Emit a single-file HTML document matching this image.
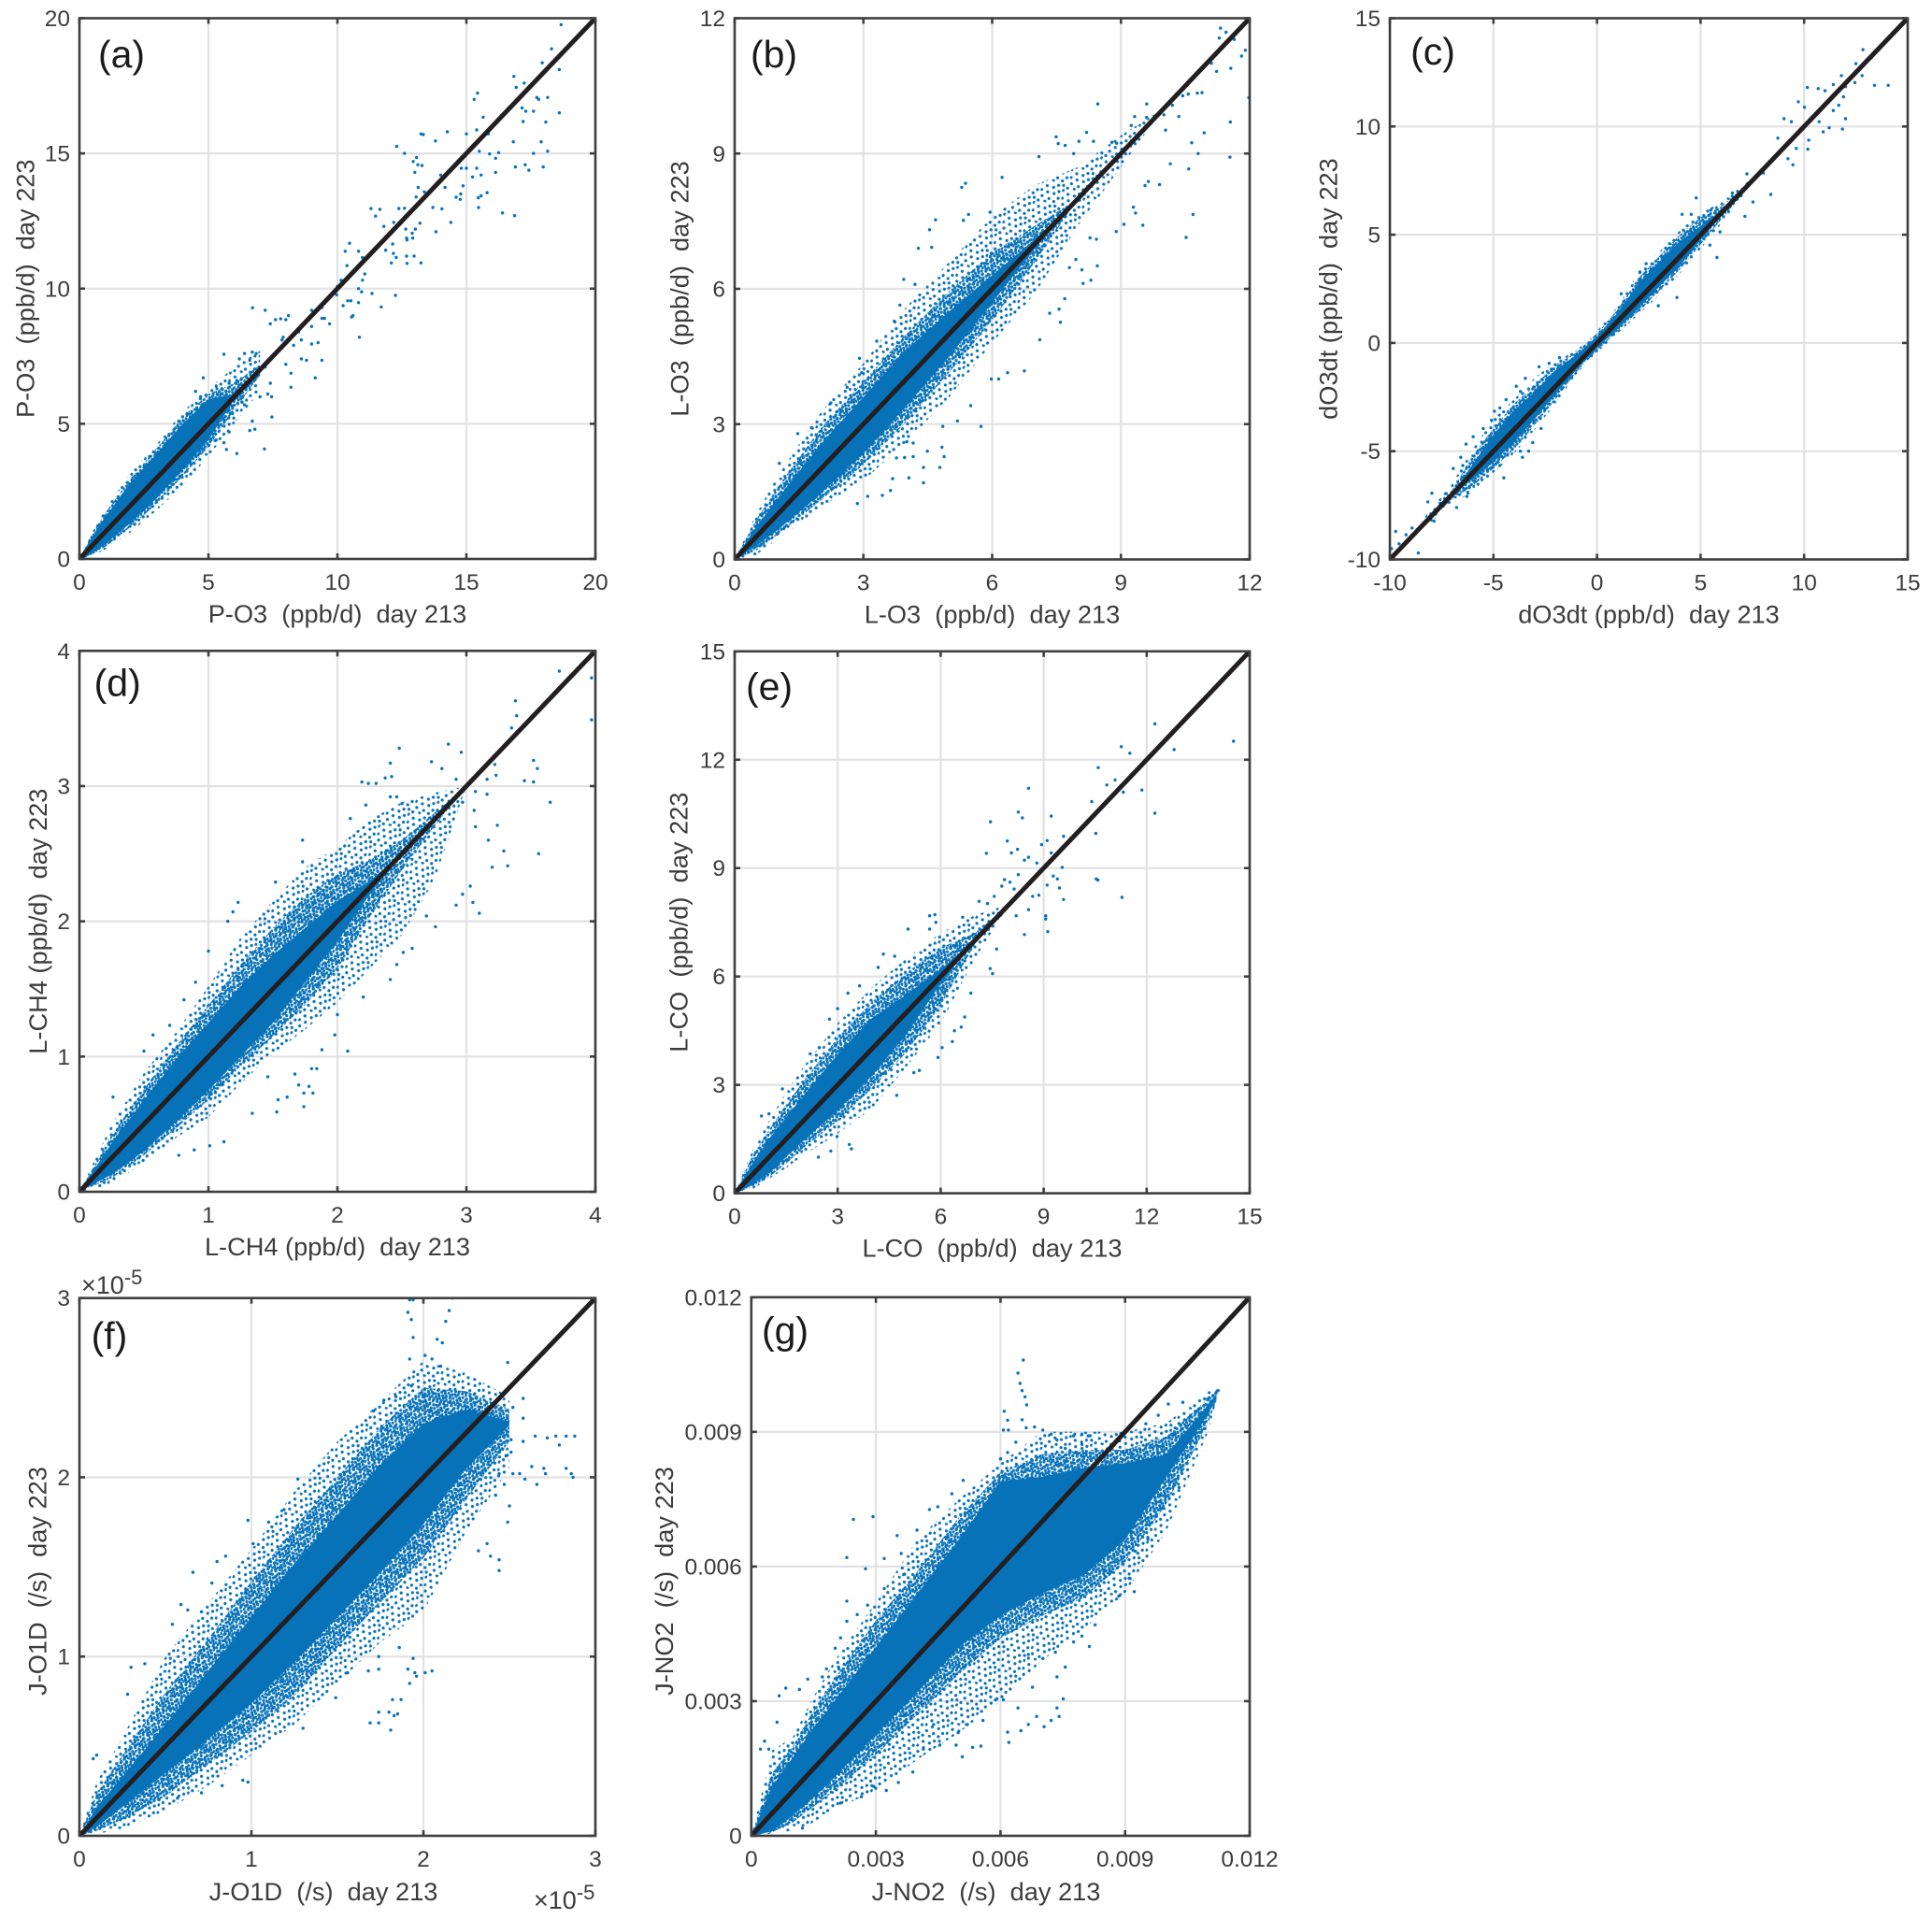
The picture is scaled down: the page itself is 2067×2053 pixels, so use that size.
<!DOCTYPE html>
<html lang="en">
<head>
<meta charset="utf-8">
<title>Day 213 vs day 223 scatter panels</title>
<style>
html,body{margin:0;padding:0;background:#fff;}
svg{display:block;}
text{font-family:"Liberation Sans",Arial,sans-serif;white-space:pre;}
</style>
</head>
<body>
<svg id="figure" xmlns="http://www.w3.org/2000/svg" width="2067" height="2053" viewBox="0 0 2067 2053">
<defs>
<pattern id="haze-dots" patternUnits="userSpaceOnUse" width="16" height="16" patternTransform="rotate(17)">
<g fill="#0872b9">
<circle cx="1" cy="2" r="1.6"/><circle cx="5.5" cy="1" r="1.6"/><circle cx="9" cy="3.5" r="1.6"/><circle cx="13" cy="1.5" r="1.6"/>
<circle cx="3" cy="5.5" r="1.6"/><circle cx="7.5" cy="6" r="1.6"/><circle cx="11.5" cy="6.5" r="1.6"/><circle cx="15" cy="5" r="1.6"/>
<circle cx="1.5" cy="9.5" r="1.6"/><circle cx="5" cy="9" r="1.6"/><circle cx="9.5" cy="9.5" r="1.6"/><circle cx="13.5" cy="9" r="1.6"/>
<circle cx="3" cy="12.5" r="1.6"/><circle cx="7" cy="13" r="1.6"/><circle cx="11" cy="12" r="1.6"/><circle cx="15" cy="13" r="1.6"/>
<circle cx="1" cy="15" r="1.6"/><circle cx="9.5" cy="15" r="1.6"/><circle cx="13" cy="15" r="1.6"/><circle cx="5" cy="15" r="1.6"/>
</g>
</pattern>
<pattern id="sparse-dots" patternUnits="userSpaceOnUse" width="24" height="24" patternTransform="rotate(23)">
<g fill="#0872b9">
<circle cx="2" cy="3" r="1.6"/><circle cx="9" cy="1" r="1.6"/><circle cx="16" cy="4" r="1.6"/><circle cx="21" cy="2" r="1.6"/>
<circle cx="5" cy="9" r="1.6"/><circle cx="12" cy="8" r="1.6"/><circle cx="19" cy="10" r="1.6"/><circle cx="23" cy="7" r="1.6"/>
<circle cx="1" cy="15" r="1.6"/><circle cx="8" cy="15" r="1.6"/><circle cx="15" cy="14" r="1.6"/><circle cx="21" cy="17" r="1.6"/>
<circle cx="4" cy="21" r="1.6"/><circle cx="12" cy="21" r="1.6"/><circle cx="18" cy="22" r="1.6"/>
</g>
</pattern>
</defs>
</svg>
<script>
/* ---------- panel (a) ---------- */
const aTicks = [0, 5, 10, 15, 20];
const aTickLabels = ["0", "5", "10", "15", "20"];
const aBandX = [0, 0.5, 1, 2, 3, 4, 5, 6, 7];
const aCoreLow = [0, 0.2, 0.55, 1.35, 2.25, 3.3, 4.4, 5.9, 7];
const aCoreHigh = [0, 0.85, 1.55, 2.85, 3.9, 5, 5.9, 6.1, 7];
const aHazeLow = [0, 0.17, 0.45, 1.2, 2.05, 3.05, 4.15, 5.5, 6.8];
const aHazeHigh = [0, 0.95, 1.7, 3, 4.1, 5.25, 6.1, 6.5, 7.2];
const aSparseLow = [0, 0.12, 0.35, 1, 1.8, 2.7, 3.8, 5, 6.2];
const aSparseHigh = [0, 1, 1.85, 3.2, 4.25, 5.45, 6.3, 7.1, 7.7];
const aPoints = [[18.67,19.76],[18.3,18.87],[17.94,18.35],[18.6,18.1],[16.84,17.85],[16.93,17.44],[17.24,17.6],[17.73,17.07],[17.8,17],[18.15,17.07],[18.6,16.5],[17.16,16.68],[17.3,16.56],[17.6,16.56],[17.2,16.18],[18.08,16.16],[15.43,17.23],[15.3,17],[15.65,16.34],[15.4,15.87],[15.85,15.72],[15,15.72],[14.26,15.8],[13.24,15.72],[13.33,15.7],[13.8,15.46],[12.3,15.26],[12.6,15],[13.07,14.85],[12.94,14.7],[13.28,14.55],[13.12,14.58],[13,14.3],[16.82,15.43],[17.9,15.43],[17.6,15],[18.15,15.08],[15.5,15.08],[16.9,14.5],[17.28,14.58],[17.42,14.38],[17.98,14.5],[15.9,14.98],[16.13,14.82],[16.25,15.03],[16.13,14.3],[15.4,14.45],[15,14.45],[14.8,14.45],[15.24,14.13],[15.57,14.2],[15.57,13.43],[15.8,13.55],[15.46,13.36],[15.47,13],[16.4,12.8],[16.87,12.7],[14.87,13.8],[14.78,13.5],[14.6,13.38],[14.76,13.3],[14.4,12.45],[13.7,13],[14.05,12.95],[13.82,12.1],[14.17,13.74],[14,14.2],[13.37,13.58],[13.05,13.39],[13.13,13.74],[12.6,12.97],[12.38,12.96],[11.65,12.93],[11.3,12.96],[11.48,12.68],[11.8,12.3],[12.18,12.45],[13.02,12.2],[13.2,12.42],[12.65,12.2],[12.9,12.05],[12.7,11.8],[11.87,11.42],[12.14,11.65],[12.17,11.3],[12.28,11.15],[12.68,11.87],[12.92,11.87],[12.68,11.2],[12.97,11.2],[13.24,10.95],[12.09,10.95],[12.7,10.93],[10.47,11.68],[10.3,11.38],[10.37,10.85],[10.82,11.38],[10.97,11.15],[11.06,10.54],[10.97,10.31],[10,10.08],[10.14,10.31],[10.82,10],[10.94,9.88],[11.34,9.82],[12.25,9.75],[11.7,9.32],[10.82,9.48],[10.4,9.55],[10.52,9.55],[10.22,9.37],[9.97,9.77],[10.6,9],[10.55,8.95],[10.85,8.2],[9.14,6.7],[8.2,6.87],[8.2,6.35],[7.46,5.25],[7.17,4.07],[6.1,3.9],[5.7,4.05],[5.6,4.3],[6.71,9.29],[7.2,9.2],[7.4,8.7],[7.6,8.85],[7.8,8.88],[8,8.85],[8.1,9],[7.9,8.2],[7.85,8.1],[5.6,7.57],[6.2,7.4],[6.4,7.6],[6.7,7.65],[6.85,7.6],[6.6,7.35],[7,7],[7.2,7.1],[4.8,6.7],[8,7.2],[8.6,7.4],[8.8,7.35],[9.4,7.35],[9,7.95],[9.25,8],[8.5,8.4],[9.4,8.9],[9.7,8.7],[9.5,8.9],[9,8.6],[9.4,9.3],[9,9.2],[8.3,7.9],[8.6,8.1],[7.4,6.5],[7.3,6.1],[7.45,6],[7,6],[6.4,5.7],[6.3,5.8],[6.7,5.1],[6.6,4.75],[6.8,4.8],[5.9,5.4],[5.8,4.7],[5.1,4.4],[5,4.2],[5.3,4.4],[6.1,6.6],[6.6,6.5],[5.8,6.5],[5.3,6.4],[4.5,6.2],[4.7,6.0]];

/* ---------- panel (b) ---------- */
const bTicks = [0, 3, 6, 9, 12];
const bTickLabels = ["0", "3", "6", "9", "12"];
const bBandX = [0, 0.5, 1, 2, 3, 4, 5, 6, 7, 8, 9, 10, 11, 12];
const bCoreLow = [0, 0.3, 0.65, 1.45, 2.35, 3.4, 4.5, 5.7, 6.9, 8, 9, 10, 11, 12];
const bCoreHigh = [0, 0.72, 1.35, 2.55, 3.6, 4.65, 5.5, 6.3, 7.1, 8, 9, 10, 11, 12];
const bHazeLow = [0, 0.2, 0.55, 1.3, 2.1, 3.05, 4.15, 5.3, 6.6, 8, 9, 10, 11, 12];
const bHazeHigh = [0, 0.88, 1.6, 2.9, 3.95, 5, 5.95, 6.8, 7.4, 8, 9, 10, 11, 12];
const bSparseLow = [0, 0.1, 0.45, 1.15, 1.75, 2.6, 3.6, 4.8, 5.9, 7.4, 8.7, 10, 11, 12];
const bSparseHigh = [0, 1, 1.85, 3.25, 4.35, 5.6, 6.6, 7.6, 8.3, 8.7, 9.4, 10, 11, 12];
const bPoints = [[11.32,11.78],[11.29,11.56],[11.45,11.69],[11.64,11.53],[11.9,11.29],[11.81,11.16],[11.11,11],[11.23,10.82],[11.56,10.89],[11.98,10.24],[8.46,10.1],[9.6,10.1],[10.89,10.35],[10.78,10.34],[10.57,10.32],[10.44,10.28],[10.2,10.07],[10,9.86],[10.35,9.82],[9.32,9.82],[9.6,9.8],[9.24,9.62],[10.04,9.52],[11.55,9.7],[10.94,9.46],[10.65,9.24],[10.8,9],[11.54,8.92],[10.15,8.77],[10.58,8.66],[9.9,8.31],[9.64,8.38],[9.56,8.29],[9.29,7.81],[9.34,7.68],[10.68,7.65],[9.51,7.41],[9.07,7.43],[8.89,7.27],[10.52,7.14],[8.2,9.47],[7.49,9.37],[7.54,9.22],[7.7,9.18],[8.02,9.27],[8.36,9.27],[8.79,9.25],[8.9,9.23],[7.09,8.93],[7.9,9],[6.23,8.47],[5.38,8.34],[5.29,8.25],[4.68,7.53],[4.54,7.31],[5.45,7.65],[5.33,7.52],[5.95,7.7],[4.28,6.9],[4.59,6.92],[3.94,6.21],[4.2,6.1],[8.45,6.51],[8.09,6.42],[8.12,6.12],[8.3,6.19],[7.8,6.47],[8.43,7.1],[8.28,7.13],[7.95,6.65],[7.69,5.78],[7.56,5.55],[7.34,5.46],[7.59,5.26],[7.11,4.87],[6.75,4.18],[6.36,4.14],[6.15,4],[5.98,4],[5.5,3.41],[5.74,2.95],[5.19,3.07],[4.85,2.95],[4.88,2.28],[4.83,2.49],[4.78,2.04],[4.49,2.4],[4.4,2.04],[4.16,2.58],[4.01,2.61],[3.77,2.25],[3.96,2.26],[4.16,2.28],[4.06,1.81],[4.4,1.7],[3.68,1.79],[3.63,1.53],[3.1,1.4],[2.86,1.24],[3.44,1.42],[2.91,4.46],[2.96,4.14],[3.31,4.84],[3.85,5.64],[3.72,5.28],[1.47,2.79],[1.79,2.92],[2.24,3.47],[2.62,3.82],[1.04,2.13]];

/* ---------- panel (c) ---------- */
const cTicks = [-10, -5, 0, 5, 10, 15];
const cTickLabels = ["-10", "-5", "0", "5", "10", "15"];
const cBandX = [-10, -7, -6, -5, -4, -3, -2, -1, 0, 1, 2, 3, 4, 5, 6, 8, 15];
const cCoreLow = [-10, -7, -6.3, -5.5, -4.6, -3.5, -2.35, -1.25, -0.25, 0.65, 1.6, 2.6, 3.6, 4.75, 5.9, 8, 15];
const cCoreHigh = [-10, -7, -5.6, -4.25, -3.1, -2.25, -1.25, -0.55, 0.3, 1.4, 2.75, 3.75, 4.7, 5.4, 6.1, 8, 15];
const cHazeLow = [-10, -7.2, -6.6, -5.8, -4.9, -3.8, -2.6, -1.35, -0.35, 0.55, 1.45, 2.4, 3.4, 4.55, 5.7, 8, 15];
const cHazeHigh = [-10, -6.8, -5.2, -3.95, -2.8, -1.95, -1, -0.45, 0.45, 1.55, 3, 4, 5, 5.8, 6.3, 8, 15];
const cSparseLow = [-10, -7.4, -6.9, -6, -5.1, -4, -2.8, -1.45, -0.45, 0.45, 1.3, 2.2, 3.2, 4.35, 5.5, 8, 15];
const cSparseHigh = [-10, -6.5, -4.9, -3.5, -2.6, -1.6, -0.85, -0.35, 0.55, 1.7, 3.25, 4.2, 5.2, 6, 6.5, 8, 15];
const cPoints = [[12.84,13.55],[13.24,13.17],[12.5,12.9],[11.8,12.35],[12.8,12.35],[12.45,12.03],[14.06,11.9],[13.4,11.9],[10.16,11.8],[10.68,11.75],[11.01,11.65],[11.41,11.94],[12,11.84],[11.9,11.37],[9.72,11.14],[10.02,10.89],[11.67,10.98],[11.41,10.74],[12,10.36],[11.85,9.88],[11.21,9.94],[9.03,10.36],[9.38,10.22],[10.72,10.22],[10.92,9.75],[10.22,9.37],[10.18,8.95],[9.62,8.99],[9.46,8.23],[9.22,8.51],[8.73,9.46],[8.03,7.85],[8.39,6.86],[7.53,6.51],[7.14,5.85],[7.24,7.81],[6.54,6.93],[4.79,6.7],[4.11,5.94],[4.55,5.94],[5.49,6.13],[5.94,5.13],[5.79,3.95],[5.45,4.52],[3.86,2.1],[2.96,1.72],[1.17,2.27],[2.07,3.28],[2.37,3.66],[-1.81,-0.68],[-2.8,-1.1],[-2.31,-0.94],[-3.46,-1.63],[-3.9,-2],[-3.7,-2.24],[-4.39,-2.62],[-4.95,-3.15],[-4.69,-3],[-5.09,-3.57],[-5.49,-3.95],[-5.98,-4.33],[-6.32,-4.67],[-6.58,-5.28],[-6.94,-5.8],[-6.48,-5.66],[-7.97,-6.94],[-8.17,-7.34],[-7.57,-7.41],[-7.28,-6.96],[-6.78,-7.6],[-7.87,-8.23],[-9.72,-8.71],[-8.93,-8.55],[-9.22,-8.86],[-9.56,-9.28],[-9.92,-9.5],[-8.63,-9.7],[-4.5,-6.23],[-5.09,-5.76],[-4.69,-5.66],[-3.6,-5.28],[-3.7,-5],[-3.3,-5],[-2.7,-3.95],[-3.1,-4.6],[-6.28,-7.09],[-6.24,-6.9]];

/* ---------- panel (d) ---------- */
const dTicks = [0, 1, 2, 3, 4];
const dTickLabels = ["0", "1", "2", "3", "4"];
const dBandX = [0, 0.25, 0.5, 0.75, 1, 1.25, 1.5, 1.75, 2, 2.25, 2.5, 2.75, 3, 4];
const dCoreLow = [0, 0.13, 0.3, 0.52, 0.75, 1, 1.25, 1.55, 1.85, 2.2, 2.5, 2.75, 3, 4];
const dCoreHigh = [0, 0.36, 0.68, 0.98, 1.25, 1.52, 1.75, 1.95, 2.15, 2.3, 2.5, 2.75, 3, 4];
const dHazeLow = [0, 0.1, 0.27, 0.47, 0.68, 0.93, 1.15, 1.38, 1.65, 2.03, 2.38, 2.7, 3, 4];
const dHazeHigh = [0, 0.42, 0.76, 1.08, 1.38, 1.68, 1.95, 2.18, 2.35, 2.45, 2.6, 2.8, 3, 4];
const dSparseLow = [0, 0.05, 0.22, 0.4, 0.55, 0.8, 1.02, 1.2, 1.4, 1.65, 1.9, 2.3, 3, 4];
const dSparseHigh = [0, 0.5, 0.88, 1.18, 1.52, 1.88, 2.15, 2.4, 2.55, 2.75, 2.88, 2.95, 3, 4];
const dPoints = [[3.72,3.85],[3.97,3.8],[3.97,3.49],[3.38,3.63],[3.39,3.52],[3.35,3.43],[2.48,3.28],[2.86,3.31],[2.96,3.25],[2.41,3.17],[2.73,3.18],[2.81,3.13],[3.52,3.19],[3.55,3.13],[3.22,3.16],[3.23,3.08],[3.16,3.05],[2.92,3.05],[3.45,3.04],[3.52,3.03],[3.07,2.96],[3.16,2.94],[3.65,2.88],[2.97,2.88],[3.06,2.82],[3.07,2.7],[3.24,2.71],[3.17,2.6],[3.29,2.52],[3.56,2.5],[3.2,2.4],[3.32,2.41],[3.03,2.26],[2.97,2.2],[2.92,2.12],[3.05,2.14],[3.1,2.06],[2.76,1.96],[2.69,2.04],[2.58,1.8],[2.51,1.77],[2.46,1.68],[2.41,1.57],[2.2,1.44],[2.08,1.04],[1.98,1.16],[2,1.31],[1.88,1.05],[1.84,0.91],[1.8,0.91],[1.81,0.73],[1.74,0.73],[1.74,0.63],[1.78,0.78],[1.7,0.79],[1.67,0.87],[1.61,0.7],[1.54,0.68],[1.53,0.59],[1.34,0.58],[1.46,0.85],[1.12,0.37],[1.01,0.34],[0.89,0.31],[0.77,0.27],[2.19,3.03],[2.24,3.02],[2.3,3.02],[2.37,3.06],[2.42,3.07],[2.41,2.92],[2.46,2.92],[2.5,2.87],[2.22,2.86],[2.1,2.76],[1.73,2.6],[1.73,2.44],[1.52,2.29],[1.23,2.14],[1.19,2.07],[1.15,2],[1,1.78],[0.9,1.55],[0.81,1.42],[0.7,1.23],[0.57,1.16],[0.5,1.04],[0.26,0.7]];

/* ---------- panel (e) ---------- */
const eTicks = [0, 3, 6, 9, 12, 15];
const eTickLabels = ["0", "3", "6", "9", "12", "15"];
const eBandX = [0, 0.5, 1, 1.5, 2, 3, 4, 5, 6, 7, 8, 15];
const eCoreLow = [0, 0.22, 0.55, 1, 1.45, 2.3, 3.25, 4.4, 5.8, 7, 8, 15];
const eCoreHigh = [0, 0.8, 1.5, 2.1, 2.7, 3.85, 4.85, 5.5, 6.2, 7, 8, 15];
const eHazeLow = [0, 0.18, 0.45, 0.82, 1.25, 2, 2.9, 3.9, 5.2, 6.9, 8, 15];
const eHazeHigh = [0, 1, 1.75, 2.45, 3.1, 4.3, 5.3, 6.1, 6.8, 7.2, 8, 15];
const eSparseLow = [0, 0.1, 0.4, 0.7, 1.05, 1.65, 2.35, 3.5, 4.7, 6.5, 8, 15];
const eSparseHigh = [0, 1.15, 2, 2.8, 3.5, 4.7, 5.7, 6.5, 7.2, 7.7, 8, 15];
const ePoints = [[14.53,12.51],[12.24,12.99],[11.26,12.36],[11.51,12.18],[12.8,12.28],[11.86,11.16],[12.24,10.52],[11.28,8.19],[10.59,11.78],[11.08,11.44],[10.84,11.3],[11.32,11.1],[10.4,10.84],[8.56,11.21],[9.22,10.44],[8.26,10.55],[8.38,10.39],[7.45,10.28],[7.33,9.41],[7.94,9.75],[8.06,9.42],[8.24,9.52],[8.44,9.22],[8.56,9.3],[8.94,9.65],[9.1,9.76],[9.22,9.42],[9.58,9.88],[8.8,9.14],[10.52,9.96],[10.53,8.7],[10.58,8.67],[9.54,9.02],[9.4,8.7],[9.28,8.78],[9.46,8.45],[9.58,8.13],[9.1,8.53],[8.86,8.25],[8.68,8.22],[8.26,8.82],[7.86,8.68],[8.02,8.61],[7.78,8.5],[8.14,8.42],[8.56,7.85],[8.2,7.68],[8.44,7.16],[9.06,7.68],[9.06,7.59],[9.12,7.24],[7.63,6.76],[7.44,6.22],[7.51,6.08],[7.12,8.08],[7.36,8.02],[7.56,8.22],[6.64,7.64],[5.68,7.68],[5.83,7.71],[5.86,7.5],[5.68,7.31],[5.05,7.31],[4.33,6.62],[4.66,6.56],[4.18,6.25],[6.88,5.54],[6.7,4.88],[6.6,4.6],[6.4,4.5],[6.34,4.2],[6.04,4.03],[5.92,3.76],[5.38,3.4],[5.22,3.34],[4.72,2.71],[3.4,1.23],[3.34,1.35],[2.98,1.57],[2.8,1.17],[2.44,1],[3.3,5.54],[3.64,5.74],[3,5.11],[2.76,4.82],[2.2,3.86],[2.46,4.03],[1.39,2.89],[0.78,2.14],[1,2.2]];

/* ---------- panel (f), values in units of 1e-5 ---------- */
const fTicks = [0, 1, 2, 3];
const fTickLabels = ["0", "1", "2", "3"];
const fBandX = [0, 0.1, 0.25, 0.5, 0.75, 1, 1.25, 1.5, 1.75, 2, 2.25, 2.5];
const fCoreLow = [0, 0.05, 0.16, 0.35, 0.54, 0.74, 0.97, 1.22, 1.47, 1.74, 2.05, 2.29];
const fCoreHigh = [0, 0.16, 0.33, 0.62, 0.92, 1.22, 1.52, 1.79, 2.07, 2.3, 2.38, 2.31];
const fHazeLow = [0, 0.03, 0.09, 0.22, 0.4, 0.58, 0.78, 1.05, 1.3, 1.55, 1.88, 2.2];
const fHazeHigh = [0, 0.24, 0.45, 0.8, 1.1, 1.42, 1.72, 2, 2.28, 2.5, 2.48, 2.38];
const fSparseLow = [0, 0.01, 0.04, 0.14, 0.28, 0.45, 0.62, 0.85, 1.08, 1.25, 1.7, 2.05];
const fSparseHigh = [0, 0.3, 0.55, 1, 1.3, 1.6, 1.92, 2.2, 2.42, 2.65, 2.58, 2.45];
const fPoints = [[1.94,2.99],[1.91,2.92],[1.92,2.99],[1.93,2.88],[1.94,2.78],[1.92,2.66],[2.17,3],[2.15,2.93],[2.13,2.87],[2.08,2.77],[2.11,2.75],[2.01,2.68],[2.05,2.66],[2.49,2.64],[2.1,2.62],[2.88,2.23],[2.83,2.23],[2.77,2.23],[2.79,2.18],[2.72,2.22],[2.65,2.23],[2.58,2.2],[2.87,2],[2.83,2.05],[2.86,2.02],[2.71,2.02],[2.7,2.05],[2.66,1.96],[2.63,2.06],[2.59,1.99],[2.56,2.02],[2.52,2.02],[2.58,2.33],[2.58,2.44],[2.52,2.39],[2.51,2.21],[2.51,2.14],[2.5,1.84],[2.49,1.75],[2.44,1.48],[2.44,1.54],[2.39,1.56],[2.32,1.59],[2.37,1.63],[1.69,0.63],[1.74,0.63],[1.74,0.69],[1.8,0.69],[1.83,0.67],[1.81,0.59],[1.87,0.76],[1.82,0.76],[1.85,0.68],[1.68,0.92],[1.74,0.93],[1.74,1],[1.86,1.05],[1.94,0.99],[1.95,0.91],[1.91,0.93],[1.96,0.89],[2.01,0.91],[2.05,0.92],[1.92,0.85],[1.56,0.91],[1.49,0.77],[1.3,0.6],[0.98,0.3],[0.95,0.31],[0.83,0.28],[0.71,0.24],[0.57,0.21],[0.66,1.47],[0.77,1.41],[0.8,1.53],[0.85,1.56],[0.98,1.76],[1.01,1.63],[1.1,1.75],[1.19,1.82],[1.27,1.99],[0.59,1.29],[0.54,1.18],[0.63,1.26],[0.71,1.25],[0.38,0.96],[0.3,0.94],[0.28,0.79],[0.08,0.43],[0.1,0.45],[1.71,2.37],[1.77,2.43],[1.84,2.45],[1.93,2.51],[2.46,2.3],[2.48,2.12],[2.44,2.02],[2.47,1.96],[2.42,1.9]];

/* ---------- panel (g), values in units of 1e-3 ---------- */
const gTicks = [0, 3, 6, 9, 12];
const gTickLabels = ["0", "0.003", "0.006", "0.009", "0.012"];
const gBandX = [0, 0.5, 1, 1.5, 2, 3, 4, 5, 6, 7, 8, 9, 10, 11, 11.2];
const gCoreLow = [0, 0.1, 0.45, 0.85, 1.3, 2.25, 3.2, 4.2, 4.9, 5.4, 5.8, 6.6, 8, 9.4, 9.75];
const gCoreHigh = [0, 1.1, 1.75, 2.4, 3, 4.2, 5.4, 6.6, 7.9, 8, 8.2, 8.3, 8.5, 9.6, 9.85];
const gHazeLow = [0, 0.08, 0.3, 0.65, 1, 1.8, 2.7, 3.6, 4.4, 4.9, 5.3, 6.1, 7.4, 9.2, 9.7];
const gHazeHigh = [0, 1.4, 2, 2.8, 3.5, 4.8, 5.9, 7.1, 8.1, 8.5, 8.6, 8.6, 8.9, 9.75, 9.9];
const gSparseLow = [0, 0.05, 0.12, 0.3, 0.6, 1, 1.7, 2.3, 3, 3.9, 4.6, 5.4, 6.8, 9, 9.7];
const gSparseHigh = [0, 1.9, 2.2, 3.1, 3.9, 5.2, 6.6, 7.5, 8.3, 9, 9, 9, 9.2, 9.9, 9.95];
const gPoints = [[6.55,10.6],[6.42,10.31],[6.47,10.08],[6.52,9.92],[6.59,9.78],[6.63,9.6],[6.09,9.46],[6.17,9.26],[6.07,9.04],[6.19,9.04],[6.52,9.27],[6.62,9.09],[6.82,9.11],[7.02,9.04],[7.22,8.95],[7.36,8.82],[7.76,8.91],[7.96,8.95],[8.11,8.91],[7.96,8.72],[7.81,8.54],[6.37,8.77],[6.17,8.54],[6,8.4],[7.56,8.63],[5.1,7.92],[2.93,7.11],[2.46,7.05],[4.83,7.62],[4.49,7.33],[4.29,7.27],[3.99,6.81],[3.51,6.69],[3.61,6.29],[3.2,6.18],[2.3,6.2],[2.75,5.95],[2.3,5.23],[2.8,5.14],[2.55,4.93],[2.3,4.78],[2.15,4.41],[2.02,4.18],[3.2,5.51],[3.69,5.83],[10.04,9.62],[10.39,9.66],[11.19,9.87],[11.24,9.92],[10.99,9.73],[10.69,9.46],[10.54,9.32],[10.34,9.14],[10.14,8.95],[9.8,9.37],[9.5,9.18],[9.95,8.49],[10.3,7.76],[10.19,7.81],[10.04,7.58],[9.9,7.3],[9.75,7.44],[9.55,6.61],[9.25,6.34],[9.1,5.74],[9.22,5.44],[8.85,5.34],[8.66,5.88],[8.28,4.7],[7.96,4.45],[8.14,4.22],[7.76,4.32],[7.56,3.76],[7.32,4.09],[7.02,3.95],[6.67,4.04],[7.51,3.05],[7.36,2.85],[7.22,2.57],[7.05,2.43],[7.41,2.66],[6.87,2.66],[6.67,2.48],[6.49,2.34],[6.2,2.08],[6.17,2.31],[6.42,2.85],[6.07,3.03],[5.88,3.03],[5.53,2],[5.33,1.97],[5.08,1.76],[4.93,2.02],[4.54,2.02],[4.14,1.93],[3.89,1.42],[3.54,1.19],[3.25,1.01],[2.95,1.1],[2.65,0.87],[2.15,0.73],[1.23,0.17],[5.18,2.48],[4.98,2.3],[5.58,2.57],[4.39,2.48],[7.36,3.54],[6.77,3.31],[0.67,3.12],[0.83,3.29],[1.36,3.49],[1.16,3.26],[0.62,2.53],[0.22,1.93],[0.42,1.93],[0.32,2.11],[1.81,3.72],[1.71,3.54],[2.1,3.76]];

/* ---------- layout and rendering ---------- */
const NS = 'http://www.w3.org/2000/svg';
const figure = document.getElementById('figure');
const BLUE = '#0872b9';
const TEXT = '#3c3c3c';

const panels = [
  { id:'a', box:[85,19.5,637,598], ticks:aTicks, tickLabels:aTickLabels, bandX:aBandX, coreLow:aCoreLow, coreHigh:aCoreHigh, hazeLow:aHazeLow, hazeHigh:aHazeHigh, sparseLow:aSparseLow, sparseHigh:aSparseHigh, points:aPoints, xTitle:'P-O3  (ppb/d)  day 213', yTitle:'P-O3  (ppb/d)  day 223', yTitleX:27, tag:'(a)', tagPos:[130,59.2], xTitleDrop:68 },
  { id:'b', box:[786,19.5,1337,598.5], ticks:bTicks, tickLabels:bTickLabels, bandX:bBandX, coreLow:bCoreLow, coreHigh:bCoreHigh, hazeLow:bHazeLow, hazeHigh:bHazeHigh, sparseLow:bSparseLow, sparseHigh:bSparseHigh, points:bPoints, xTitle:'L-O3  (ppb/d)  day 213', yTitle:'L-O3  (ppb/d)  day 223', yTitleX:727, tag:'(b)', tagPos:[828,59.2], xTitleDrop:68 },
  { id:'c', box:[1487,19.5,2041,598.5], ticks:cTicks, tickLabels:cTickLabels, bandX:cBandX, coreLow:cCoreLow, coreHigh:cCoreHigh, hazeLow:cHazeLow, hazeHigh:cHazeHigh, sparseLow:cSparseLow, sparseHigh:cSparseHigh, points:cPoints, xTitle:'dO3dt (ppb/d)  day 213', yTitle:'dO3dt (ppb/d)  day 223', yTitleX:1421, tag:'(c)', tagPos:[1533,56.1], xTitleDrop:68 },
  { id:'d', box:[85,696.3,637,1275], ticks:dTicks, tickLabels:dTickLabels, bandX:dBandX, coreLow:dCoreLow, coreHigh:dCoreHigh, hazeLow:dHazeLow, hazeHigh:dHazeHigh, sparseLow:dSparseLow, sparseHigh:dSparseHigh, points:dPoints, xTitle:'L-CH4 (ppb/d)  day 213', yTitle:'L-CH4 (ppb/d)  day 223', yTitleX:40.5, tag:'(d)', tagPos:[125.7,731.3], xTitleDrop:68 },
  { id:'e', box:[786,696.8,1337,1276.6], ticks:eTicks, tickLabels:eTickLabels, bandX:eBandX, coreLow:eCoreLow, coreHigh:eCoreHigh, hazeLow:eHazeLow, hazeHigh:eHazeHigh, sparseLow:eSparseLow, sparseHigh:eSparseHigh, points:ePoints, xTitle:'L-CO  (ppb/d)  day 213', yTitle:'L-CO  (ppb/d)  day 223', yTitleX:726, tag:'(e)', tagPos:[823,735.5], xTitleDrop:68 },
  { id:'f', box:[85,1388.7,637,1964], ticks:fTicks, tickLabels:fTickLabels, bandX:fBandX, coreLow:fCoreLow, coreHigh:fCoreHigh, hazeLow:fHazeLow, hazeHigh:fHazeHigh, sparseLow:fSparseLow, sparseHigh:fSparseHigh, points:fPoints, xTitle:'J-O1D  (/s)  day 213', yTitle:'J-O1D  (/s)  day 223', yTitleX:40, tag:'(f)', tagPos:[117,1430], exponent:true, xTitleDrop:69, xTitleCenter:346, yTitleCenter:1691.5 },
  { id:'g', box:[803.8,1387.8,1337,1964], ticks:gTicks, tickLabels:gTickLabels, bandX:gBandX, coreLow:gCoreLow, coreHigh:gCoreHigh, hazeLow:gHazeLow, hazeHigh:gHazeHigh, sparseLow:gSparseLow, sparseHigh:gSparseHigh, points:gPoints, xTitle:'J-NO2  (/s)  day 213', yTitle:'J-NO2  (/s)  day 223', yTitleX:710.5, tag:'(g)', tagPos:[840,1424.5], xTitleDrop:69, xTitleCenter:1055, yTitleCenter:1691.5 }
];

function xScale(p, v) {
  const lo = p.ticks[0], hi = p.ticks[p.ticks.length - 1];
  return p.box[0] + (v - lo) / (hi - lo) * (p.box[2] - p.box[0]);
}
function yScale(p, v) {
  const lo = p.ticks[0], hi = p.ticks[p.ticks.length - 1];
  return p.box[3] - (v - lo) / (hi - lo) * (p.box[3] - p.box[1]);
}
function bandPoints(p, low, high) {
  const top = p.bandX.map((x, i) => xScale(p, x).toFixed(1) + ',' + yScale(p, high[i]).toFixed(1));
  const bottom = p.bandX.map((x, i) => xScale(p, x).toFixed(1) + ',' + yScale(p, low[i]).toFixed(1)).reverse();
  return top.concat(bottom).join(' ');
}
function make(tag, parent, attrs) {
  const el = document.createElementNS(NS, tag);
  for (const k in attrs) el.setAttribute(k, attrs[k]);
  parent.appendChild(el);
  return el;
}

panels.forEach(p => {
  const [x0, y0, x1, y1] = p.box;
  const g = make('g', figure, {});
  
  

  const clip = make('clipPath', g, { id: 'clip-' + p.id });
  make('rect', clip, { x: x0, y: y0, width: x1 - x0, height: y1 - y0 });

  /* grid */
  p.ticks.slice(1, -1).forEach(t => {
    const v = make('line', g, { x1: xScale(p, t), x2: xScale(p, t), y1: y0, y2: y1, stroke: '#e2e2e2', 'stroke-width': 2.2 });
    
    
    const h = make('line', g, { x1: x0, x2: x1, y1: yScale(p, t), y2: yScale(p, t), stroke: '#e2e2e2', 'stroke-width': 2.2 });
    
    
  });

  /* point cloud */
  const cloud = make('g', g, { 'clip-path': 'url(#clip-' + p.id + ')' });
  
  

  const sparse = make('polygon', cloud, { points: bandPoints(p, p.sparseLow, p.sparseHigh), fill: 'url(#sparse-dots)' });
  
  

  const haze = make('polygon', cloud, { points: bandPoints(p, p.hazeLow, p.hazeHigh), fill: 'url(#haze-dots)' });
  
  

  const core = make('polygon', cloud, { points: bandPoints(p, p.coreLow, p.coreHigh), fill: BLUE });
  
  

  p.points.forEach(pt => {
    const c = make('circle', cloud, { cx: xScale(p, pt[0]).toFixed(1), cy: yScale(p, pt[1]).toFixed(1), r: 1.7, fill: BLUE });
    
    
  });

  /* 1:1 line */
  const lo = p.ticks[0], hi = p.ticks[p.ticks.length - 1];
  const ref = make('line', g, { x1: xScale(p, lo), y1: yScale(p, lo), x2: xScale(p, hi), y2: yScale(p, hi), stroke: '#231f20', 'stroke-width': 5, 'clip-path': 'url(#clip-' + p.id + ')' });
  
  

  /* axes frame */
  const frame = make('rect', g, { x: x0, y: y0, width: x1 - x0, height: y1 - y0, fill: 'none', stroke: '#3f3f3f', 'stroke-width': 2.6 });
  
  

  /* ticks and tick labels */
  p.ticks.forEach((t, i) => {
    const tx = xScale(p, t), ty = yScale(p, t);
    [[tx, y1, tx, y1 - 6], [tx, y0, tx, y0 + 6], [x0, ty, x0 + 6, ty], [x1, ty, x1 - 6, ty]].forEach(s => {
      const m = make('line', g, { x1: s[0], y1: s[1], x2: s[2], y2: s[3], stroke: '#3f3f3f', 'stroke-width': 2.6 });
      
      
    });
    const xl = make('text', g, { x: tx, y: y1 + 33, 'text-anchor': 'middle', 'font-size': 24.5, fill: TEXT });
    
    
    xl.textContent = p.tickLabels[i];
    const yl = make('text', g, { x: x0 - 10, y: ty + 8.5, 'text-anchor': 'end', 'font-size': 24.5, fill: TEXT });
    
    
    yl.textContent = p.tickLabels[i];
  });

  /* axis titles */
  const xTitleCx = p.xTitleCenter || (x0 + x1) / 2;
  const xt = make('text', g, { x: xTitleCx, y: y1 + p.xTitleDrop, 'text-anchor': 'middle', 'font-size': 27.2, fill: TEXT });
  
  
  xt.textContent = p.xTitle;

  const yc = p.yTitleCenter || (y0 + y1) / 2;
  const yt = make('text', g, { x: 0, y: 0, 'text-anchor': 'middle', 'font-size': 27.2, fill: TEXT, transform: 'translate(' + (p.yTitleX + 9.5) + ',' + yc + ') rotate(-90)' });
  
  
  yt.textContent = p.yTitle;

  /* panel tag */
  const tag = make('text', g, { x: p.tagPos[0], y: p.tagPos[1] + 13, 'text-anchor': 'middle', 'font-size': 41, fill: '#1a1a1a' });
  
  
  tag.textContent = p.tag;

  /* axis exponents */
  if (p.exponent) {
    [[87, y0 - 4.5, 'y-axis-exponent'], [571, y1 + 78, 'x-axis-exponent']].forEach(e => {
      const ex = make('text', g, { x: e[0], y: e[1], 'font-size': 27, fill: TEXT });
      
      
      ex.textContent = '\u00d710';
      const sup = make('tspan', ex, { dy: -10, 'font-size': 22 });
      sup.textContent = '-5';
    });
  }
});
</script>
</body>
</html>
